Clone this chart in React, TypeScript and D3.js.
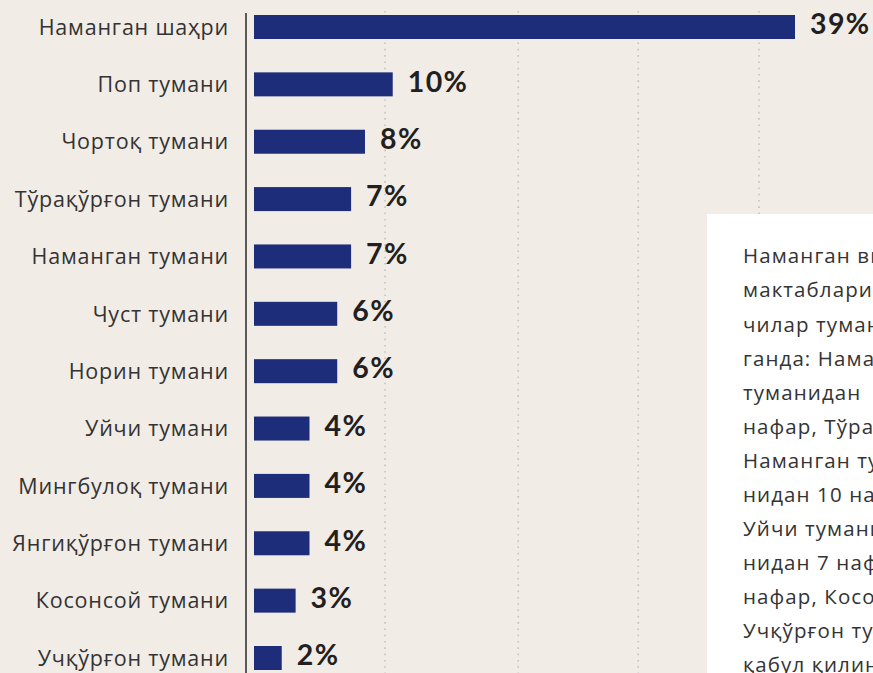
import React from "react";
import * as d3 from "d3";

const categories = [
  "Наманган шаҳри",
  "Поп тумани",
  "Чортоқ тумани",
  "Тўрақўрғон тумани",
  "Наманган тумани",
  "Чуст тумани",
  "Норин тумани",
  "Уйчи тумани",
  "Мингбулоқ тумани",
  "Янгиқўрғон тумани",
  "Косонсой тумани",
  "Учқўрғон тумани",
];
const values = [39, 10, 8, 7, 7, 6, 6, 4, 4, 4, 3, 2];
const gridValues = [9.45, 19.05, 27.7, 36.4];

const noteLines = [
  "Наманган вилоятидан олий таълим",
  "мактабларига қабул қилинган ўқув-",
  "чилар туманлар кесимида қара-",
  "ганда: Наманган шаҳридан 56 нафар, Поп",
  "туманидан    14 нафар, Чортоқ туманидан 11",
  "нафар, Тўрақўрғон туманидан 10 нафар,",
  "Наманган туманидан 10 нафар, Чуст тума-",
  "нидан 10 нафар, Норин туманидан 9 нафар,",
  "Уйчи туманидан 6 нафар, Мингбулоқ тума-",
  "нидан 7 нафар, Янгиқўрғон туманидан 6",
  "нафар, Косонсой туманидан 4 нафар,",
  "Учқўрғон туманидан 3 нафар ўқувчи",
  "қабул қилинган.",
];

const W = 873;
const H = 673;

export default function App() {
  const x = d3.scaleLinear().domain([0, 39]).range([254, 795]);
  const y = d3.scalePoint<string>().domain(categories).range([27, 658]);
  const barH = 24;
  const lineY = d3.scaleLinear().domain([0, 12]).range([256, 665]);

  return (
    <svg
      width={W}
      height={H}
      style={{ position: "absolute", left: 0, top: 0, display: "block", overflow: "hidden" }}
    >
      <rect x={0} y={0} width={W} height={H} fill="#f2ece6" />
      {gridValues.map((g, i) => (
        <line
          key={"g" + i}
          x1={x(g)}
          x2={x(g)}
          y1={11}
          y2={H}
          stroke="#c4c2c2"
          strokeWidth={1.6}
          strokeDasharray="1.6 4.7"
        />
      ))}
      <line x1={246} x2={246} y1={13} y2={H} stroke="#2a2a2a" strokeWidth={1.5} />
      {categories.map((c, i) => {
        const cy = y(c) as number;
        return (
          <g key={c}>
            <rect x={x(0)} y={cy - barH / 2} width={x(values[i]) - x(0)} height={barH} fill="#1d2d79" />
            <text
              x={229}
              y={cy}
              dy="0.36em"
              textAnchor="end"
              fontFamily="'Open Sans', sans-serif"
              fontSize={21.5}
              letterSpacing={0.8}
              fill="#333"
            >
              {c}
            </text>
            <text
              x={x(values[i]) + 15}
              y={cy - 3}
              dy="0.36em"
              fontFamily="Lato, sans-serif"
              fontWeight={700}
              fontSize={28.5}
              letterSpacing={1.4}
              fill="#231f20"
            >
              {values[i] + "%"}
            </text>
          </g>
        );
      })}
      <rect x={707} y={214} width={W} height={H} fill="#ffffff" />
      {noteLines.map((t, i) => (
        <text
          key={"n" + i}
          x={743}
          y={lineY(i)}
          dy="0.36em"
          fontFamily="'Open Sans', sans-serif"
          fontSize={20.5}
          letterSpacing={1.1}
          fill="#333"
          style={{ whiteSpace: "pre" }}
        >
          {t}
        </text>
      ))}
    </svg>
  );
}
